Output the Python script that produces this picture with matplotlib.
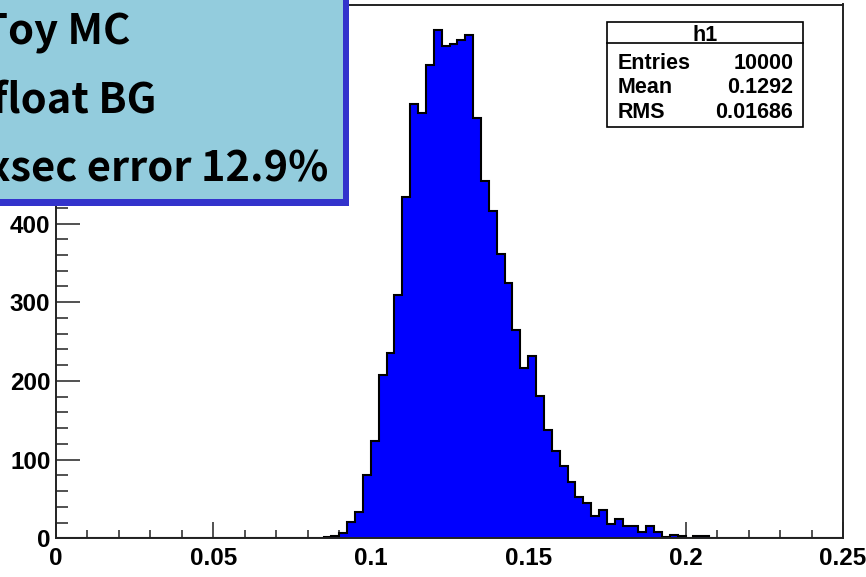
import numpy as np
import matplotlib
matplotlib.use("Agg")
import matplotlib.pyplot as plt
from matplotlib.patches import Rectangle
from matplotlib.lines import Line2D
from matplotlib.ticker import MultipleLocator, FixedFormatter, FixedLocator
from matplotlib.font_manager import FontProperties

# ---- data ----
n_bins = 100
x_min, x_max = 0.0, 0.25
first_bin = 34  # index of first non-empty bin
counts = [2, 3, 7, 21, 33, 80, 124, 207, 236, 309,
          434, 552, 540, 601, 646, 626, 628, 633, 639, 534,
          454, 416, 361, 325, 265, 216, 232, 181, 138, 111,
          92, 72, 52, 45, 28, 36, 18, 25, 16, 16,
          8, 16, 8, 2, 4, 3, 1, 3, 3, 1]
x_ticks = [0.0, 0.05, 0.1, 0.15, 0.2, 0.25]
x_tick_labels = ["0", "0.05", "0.1", "0.15", "0.2", "0.25"]
# labels 500 and 600 lie hidden under the text box in the reference
y_ticks = [0, 100, 200, 300, 400, 500, 600]
y_tick_labels = ["0", "100", "200", "300", "400", "", ""]
stats_title = "h1"
stats_names = ["Entries", "Mean", "RMS"]
stats_values = ["10000", "0.1292", "0.01686"]
box_lines = ["Toy MC", "float BG", "xsec error 12.9%"]

W, H = 866, 577
fig = plt.figure(figsize=(W / 100, H / 100), dpi=100)
fig.patch.set_facecolor("white")

def fx(px):
    return px / W

def fy(py):
    return 1 - py / H

left, right, top, bottom = 56, 843, 4.5, 538.3
ax = fig.add_axes([fx(left), fy(bottom), fx(right) - fx(left), fy(top) - fy(bottom)])

edges = np.linspace(x_min, x_max, n_bins + 1)
full = np.zeros(n_bins)
full[first_bin:first_bin + len(counts)] = counts
ax.stairs(full, edges, fill=True, color="#0000FF", baseline=0, zorder=2)
ax.stairs(full, edges, fill=False, color="black", lw=1.5, baseline=0, zorder=3)

ymax = max(counts) * 1.05
ax.set_xlim(x_min, x_max)
ax.set_ylim(0, ymax)

tickfp = FontProperties(family="Liberation Sans", weight="bold", size=17.5)
ax.xaxis.set_major_locator(FixedLocator(x_ticks))
ax.xaxis.set_major_formatter(FixedFormatter(x_tick_labels))
ax.xaxis.set_minor_locator(MultipleLocator(0.01))
ax.yaxis.set_major_locator(FixedLocator(y_ticks))
ax.yaxis.set_major_formatter(FixedFormatter(y_tick_labels))
ax.yaxis.set_minor_locator(MultipleLocator(20))
for lab in ax.get_xticklabels() + ax.get_yticklabels():
    lab.set_fontproperties(tickfp)

ax.tick_params(axis="x", which="major", direction="in", length=11.5, width=1.1,
               color="#222222", pad=6, top=False)
ax.tick_params(axis="x", which="minor", direction="in", length=5.5, width=1.1,
               color="#222222", top=False)
ax.tick_params(axis="y", which="major", direction="in", length=17, width=1.1,
               color="#222222", pad=4, right=False)
ax.tick_params(axis="y", which="minor", direction="in", length=8.5, width=1.1,
               color="#222222", right=False)
for s in ax.spines.values():
    s.set_linewidth(1.4)
    s.set_color("#222222")
    s.set_zorder(4)

# ---- stats box ----
sx0, sx1, sy0, sy1 = 606.7, 803.3, 21.7, 127.3
fig.add_artist(Rectangle((fx(sx0), fy(sy1)), fx(sx1) - fx(sx0), fy(sy0) - fy(sy1),
                         transform=fig.transFigure, facecolor="white",
                         edgecolor="black", lw=1.2, zorder=10))
fig.add_artist(Line2D([fx(sx0), fx(sx1)], [fy(42.7), fy(42.7)],
                      transform=fig.transFigure, color="black", lw=1.2, zorder=11))
sfont = dict(family="Liberation Sans", weight="bold", size=15.5)
fig.text(fx((sx0 + sx1) / 2), fy(40.7), stats_title, ha="center", va="baseline",
         zorder=12, **sfont)
for i, (n, v) in enumerate(zip(stats_names, stats_values)):
    yb = [69, 93.3, 118.3][i]
    fig.text(fx(617.3), fy(yb), n, ha="left", va="baseline", zorder=12, **sfont)
    fig.text(fx(793.3), fy(yb), v, ha="right", va="baseline", zorder=12, **sfont)

# ---- text box ----
fig.add_artist(Rectangle((fx(-20), fy(206)), fx(349) - fx(-20), fy(-20) - fy(206),
                         transform=fig.transFigure, facecolor="#3333CC",
                         edgecolor="none", zorder=20))
fig.add_artist(Rectangle((fx(-20), fy(199)), fx(343) - fx(-20), fy(-20) - fy(199),
                         transform=fig.transFigure, facecolor="#93CCDD",
                         edgecolor="none", zorder=21))
bfont = dict(family=["Noto Sans CJK JP", "DejaVu Sans"], weight="bold", size=30)
for i, t in enumerate(box_lines):
    yb = [45, 113, 182][i]
    xs = [-18, -8, -13][i]
    fig.text(fx(xs), fy(yb), t, ha="left", va="baseline", zorder=22, **bfont)

fig.savefig("out.png", dpi=100)
